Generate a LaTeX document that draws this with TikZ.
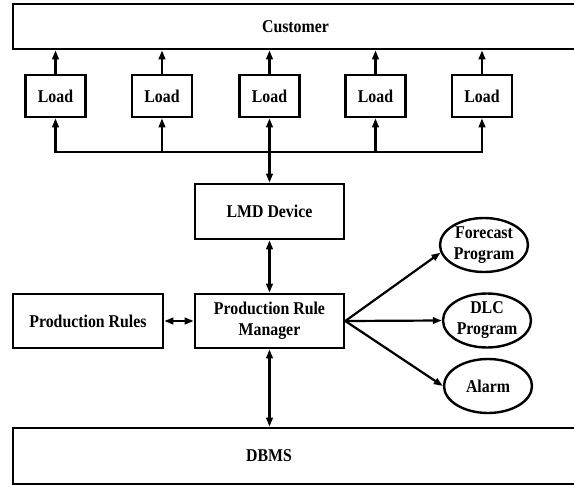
\documentclass[tikz,border=0pt]{standalone}
\usepackage{fontspec}
\setmainfont[FakeStretch=0.88]{Liberation Serif}
\usetikzlibrary{arrows.meta,shapes.geometric}
\begin{document}
\begin{tikzpicture}[x=1pt,y=-1pt,
  txt/.style={font=\bfseries\fontsize{18}{21}\selectfont, align=center},
  box/.style={txt, draw, line width=2.6pt, rectangle, inner sep=0pt},
  oval/.style={txt, draw, line width=2.4pt, ellipse, inner sep=-20pt, fill=white},
  conn/.style={line width=2.2pt},
  arr/.style={conn, -{Triangle[length=9pt,width=6.5pt]}},
  darr/.style={conn, {Triangle[length=9pt,width=6.5pt]}-{Triangle[length=9pt,width=6.5pt]}}
]
\useasboundingbox (0,0) rectangle (574,485);

% Customer
\node[box, minimum width=565pt, minimum height=45pt] (cust) at (295.5,26.5) {Customer};

% Loads
\node[box, minimum width=60pt, minimum height=42pt] (l1) at (55.5,96) {Load};
\node[box, minimum width=60pt, minimum height=42pt] (l2) at (162,96) {Load};
\node[box, minimum width=60pt, minimum height=42pt] (l3) at (269.5,96) {Load};
\node[box, minimum width=60pt, minimum height=42pt] (l4) at (375.5,96) {Load};
\node[box, minimum width=60pt, minimum height=42pt] (l5) at (482,96) {Load};

% middle boxes
\node[box, minimum width=149pt, minimum height=55pt] (lmd) at (269.5,211.5) {LMD Device};
\node[box, minimum width=149pt, minimum height=54pt] (prm) at (269.5,321) {Production Rule\\Manager};
\node[box, minimum width=150pt, minimum height=54pt] (pr) at (88,321) {Production Rules};

% DBMS
\node[box, minimum width=565pt, minimum height=56pt] (dbms) at (295.5,456) {};
\node[txt] (dbmstxt) at (269,456) {DBMS};

% ellipses
\node[oval, minimum width=88pt, minimum height=54pt] (fc) at (484,245) {Forecast\\Program};
\node[oval, minimum width=88pt, minimum height=54pt] (dlc) at (487,320.5) {DLC\\Program};
\node[oval, minimum width=88pt, minimum height=54pt] (alarm) at (488,386) {Alarm};

% bus and connectors
\coordinate (bus) at (0,152);
\draw[conn, line cap=rect] (l1 |- bus) -- (l5 |- bus);
\foreach \i in {1,2,4,5} \draw[arr] (l\i |- bus) -- (l\i.south);
\foreach \i in {1,...,5} \draw[arr] (l\i.north) -- (l\i |- cust.south);
\draw[darr] (l3.south) -- (lmd.north);
\draw[darr] (lmd.south) -- (prm.north);
\draw[darr] (prm.south) -- (prm.south |- dbms.north);
\draw[darr] (pr.east) -- (prm.west);
\draw[arr] (prm.east) -- (fc.190);
\draw[arr] (prm.east) -- (dlc.west);
\draw[arr] (prm.east) -- (alarm.west);
\end{tikzpicture}
\end{document}
